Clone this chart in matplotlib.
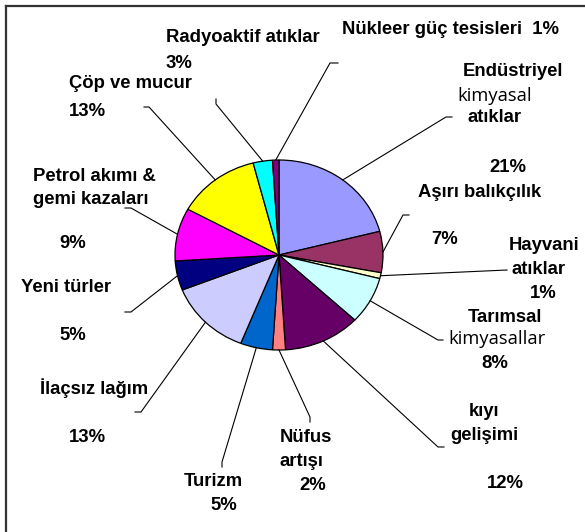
import matplotlib
matplotlib.use("Agg")
import matplotlib.pyplot as plt
from matplotlib.lines import Line2D
import numpy as np

# ---- data ----
categories = ["Endüstriyel kimyasal atıklar", "Aşırı balıkçılık", "Hayvani atıklar",
              "Tarımsal kimyasallar", "kıyı gelişimi", "Nüfus artışı", "Turizm",
              "İlaçsız lağım", "Yeni türler", "Petrol akımı & gemi kazaları",
              "Çöp ve mucur", "Radyoaktif atıklar", "Nükleer güç tesisleri"]
values = [21, 7, 1, 8, 12, 2, 5, 13, 5, 9, 13, 3, 1]
colors = ["#9999FF", "#993366", "#FFFFCC", "#CCFFFF", "#660066", "#FF8080", "#0066CC",
          "#CCCCFF", "#000080", "#FF00FF", "#FFFF00", "#00FFFF", "#800080"]

# ---- layout (pixel coords, origin top-left) ----
W, H = 585, 532
BOLD = dict(family="Liberation Sans", weight="bold", size=13.3)
REG = dict(family="Open Sans", weight="normal", size=13.2)

# per slice: list of (text or None for percent, x, y, style), elbow, end
layout = {
    0: ([("Endüstriyel", 463, 72, BOLD), ("kimyasal", 457, 96, REG), ("atıklar", 468, 117, BOLD),
         (None, 489, 167, BOLD)], (446, 117), (452, 117)),
    1: ([("Aşırı balıkçılık", 418, 193, BOLD), (None, 431, 239, BOLD)], (403, 215), (409, 215)),
    2: ([("Hayvani", 509, 245, BOLD), ("atıklar", 511, 269, BOLD), (None, 530, 293, BOLD)],
        (507, 270), (507, 270)),
    3: ([("Tarımsal", 468, 317, BOLD), ("kimyasallar", 448, 339, REG), (None, 481, 364, BOLD)],
        (438, 340), (443, 340)),
    4: ([("kıyı", 469, 412, BOLD), ("gelişimi", 450, 435, BOLD), (None, 487, 483, BOLD)],
        (438, 447), (444, 447)),
    5: ([("Nüfus", 280, 437, BOLD), ("artışı", 279, 461, BOLD), (None, 299, 485, BOLD)],
        (310, 417), (310, 422)),
    6: ([("Turizm", 184, 482, BOLD), (None, 210, 505, BOLD)], (222, 462), (222, 467)),
    7: ([("İlaçsız lağım", 40, 388, BOLD), (None, 69, 437, BOLD)], (141, 412), (135, 412)),
    8: ([("Yeni türler", 21, 288, BOLD), (None, 59, 336, BOLD)], (131, 312), (125, 312)),
    9: ([("Petrol akımı &", 33, 177, BOLD), ("gemi kazaları", 33, 199, BOLD), (None, 59, 243, BOLD)],
        (131, 208), (125, 208)),
    10: ([("Çöp ve mucur", 69, 84, BOLD), (None, 69, 111, BOLD)], (149, 107), (144, 107)),
    11: ([("Radyoaktif atıklar", 166, 37, BOLD), (None, 166, 63, BOLD)], (216, 104), (216, 99)),
    12: ([("Nükleer güç tesisleri  {p}", 342, 29, BOLD)], (330, 63), (338, 63)),
}

fig = plt.figure(figsize=(W / 100, H / 100), dpi=100)
fig.patch.set_facecolor("white")

cx, cy, rx, ry = 279, 255, 104, 95
ax = fig.add_axes([(cx - 1.25 * rx) / W, (H - cy - 1.25 * ry) / H, 2.5 * rx / W, 2.5 * ry / H])
wedges, _ = ax.pie(values, colors=colors, startangle=90, counterclock=False,
                   wedgeprops=dict(edgecolor="black", linewidth=0.9))
ax.set_aspect("auto")
ax.set_xlim(-1.25, 1.25)
ax.set_ylim(-1.25, 1.25)
ax.axis("off")


def px(x, y):
    return x / W, 1 - y / H


to_fig = ax.transData + fig.transFigure.inverted()
for i, w in enumerate(wedges):
    mid = np.deg2rad((w.theta1 + w.theta2) / 2)
    sx, sy = to_fig.transform((np.cos(mid), np.sin(mid)))
    lines, elbow, end = layout[i]
    ex, ey = px(*elbow)
    fx, fy = px(*end)
    fig.add_artist(Line2D([sx, ex, fx], [sy, ey, fy], color="black", lw=0.8,
                          transform=fig.transFigure))
    for txt, x, y, st in lines:
        s = f"{values[i]}%" if txt is None else txt.replace("{p}", f"{values[i]}%")
        tx, ty = px(x, y)
        fig.text(tx, ty, s, ha="left", va="center", **st)

# frame (top and left edges)
fig.add_artist(Line2D([6 / W, 1], [1 - 6 / H, 1 - 6 / H], color="#333333", lw=1.6,
                      transform=fig.transFigure))
fig.add_artist(Line2D([6 / W, 6 / W], [1 - 6 / H, 0], color="#333333", lw=1.6,
                      transform=fig.transFigure))

fig.savefig("out.png", dpi=100, facecolor="white")
